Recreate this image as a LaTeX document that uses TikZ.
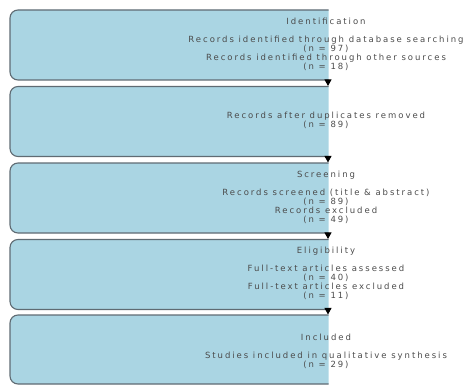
\documentclass[tikz,border=0pt]{standalone}
\usepackage{fontspec}
\usetikzlibrary{arrows.meta}
\newfontfamily\lblfont[LetterSpace=23]{DejaVu Sans}
\definecolor{boxfill}{RGB}{170,213,227}
\definecolor{boxline}{RGB}{95,107,115}
\definecolor{txt}{RGB}{75,75,75}
\begin{document}
\begin{tikzpicture}[x=1pt,y=-1pt,
  stage/.style={draw=boxline,fill=boxfill,line width=1.1pt,rounded corners=8pt,
    minimum width=636pt,minimum height=70pt,inner sep=0pt},
  label/.style={text=txt,align=center,font=\lblfont\fontsize{8.5}{9}\selectfont,inner sep=0pt},
  flow/.style={draw=black,line width=1pt,-{Triangle[length=6.5pt,width=7pt]}}]
\useasboundingbox (0,0) rectangle (470,385);
\begin{scope}
\clip (0,0) rectangle (328.5,385);
\node[stage] (b1) at (328,45) {};
\node[stage] (b2) at (328,121.5) {};
\node[stage] (b3) at (328,198) {};
\node[stage] (b4) at (328,274.5) {};
\node[stage,minimum height=69pt] (b5) at (328,349.5) {};
\end{scope}
\node[label] (t1) at (326,44.5) {Identification\\[9pt]Records identified through database searching\\(n = 97)\\Records identified through other sources\\(n = 18)};
\node[label] (t2) at (326,120) {Records after duplicates removed\\(n = 89)};
\node[label] (t3) at (326,197) {Screening\\[9pt]Records screened (title \& abstract)\\(n = 89)\\Records excluded\\(n = 49)};
\node[label] (t4) at (326,273.5) {Eligibility\\[9pt]Full-text articles assessed\\(n = 40)\\Full-text articles excluded\\(n = 11)};
\node[label] (t5) at (326,351) {Included\\[9pt]Studies included in qualitative synthesis\\(n = 29)};
\draw[flow] (b1.south) -- (b2.north);
\draw[flow] (b2.south) -- (b3.north);
\draw[flow] (b3.south) -- (b4.north);
\draw[flow] (b4.south) -- (b5.north);
\end{tikzpicture}
\end{document}
